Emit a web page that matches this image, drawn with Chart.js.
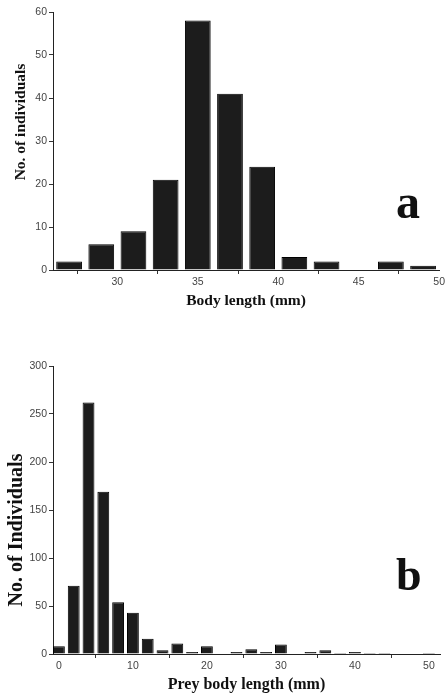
<!DOCTYPE html>
<html>
<head>
<meta charset="utf-8">
<script src="https://cdn.jsdelivr.net/npm/chart.js@4.4.0/dist/chart.umd.min.js"></script>
<style>
  body { margin: 0; background: #fff; }
  #wrap { position: relative; width: 447px; height: 694px; }
  .box { position: absolute; left: 0; width: 447px; }
  .letter { position: absolute; font-family: "Liberation Serif", serif; font-weight: bold; color: #111; }
  .ytitle {
    position: absolute; white-space: nowrap; line-height: 1;
    font-family: "Liberation Serif", serif; font-weight: bold; color: #111;
    transform: translate(-50%, -50%) rotate(-90deg);
  }
</style>
</head>
<body>
<div id="wrap">
  <div class="box" style="top:0; height:310px;"><canvas id="bodyChart"></canvas></div>
  <div class="box" style="top:350px; height:344px;"><canvas id="preyChart"></canvas></div>
  <div class="ytitle" style="left:20px; top:122px; font-size:15.5px;">No. of individuals</div>
  <div class="ytitle" style="left:15px; top:530px; font-size:20px;">No. of Individuals</div>
  <div class="letter" style="left:396px; top:174px; font-size:48px;">a</div>
  <div class="letter" style="left:396px; top:548px; font-size:46px;">b</div>
</div>
<script>
// panel a - body length (mm), bins 2 mm wide
var bodyBins = [27, 29, 31, 33, 35, 37, 39, 41, 43, 45, 47, 49];
var bodyCounts = [2, 6, 9, 21, 58, 41, 24, 3, 2, 0, 2, 1];
var bodyTicksY = [0, 10, 20, 30, 40, 50, 60];

// panel b - prey body length (mm), bins 2 mm wide
var preyBins = [0, 2, 4, 6, 8, 10, 12, 14, 16, 18, 20, 22, 24, 26, 28, 30, 32, 34, 36, 38, 40, 42, 44, 46, 48, 50];
var preyCounts = [8, 71, 262, 169, 54, 43, 16, 4, 11, 2, 8, 0, 2, 5, 2, 10, 0, 2, 4, 1, 2, 1, 1, 0, 0, 1];
var preyTicksY = [0, 50, 100, 150, 200, 250, 300];

function toPoints(bins, counts) {
  var pts = [];
  for (var i = 0; i < bins.length; i++) {
    pts.push({ x: bins[i], y: counts[i] });
  }
  return pts;
}

function makeHist(id, bins, counts, ticksY, xMin, xMax, xStep, xTitle, padTop, xFont) {
  var ctx = document.getElementById(id).getContext('2d');
  return new Chart(ctx, {
    type: 'bar',
    data: {
      datasets: [{
        data: toPoints(bins, counts),
        backgroundColor: '#1c1c1c',
        borderColor: '#000',
        borderWidth: 1,
        categoryPercentage: 1,
        barPercentage: 0.8
      }]
    },
    options: {
      responsive: true,
      maintainAspectRatio: false,
      animation: false,
      layout: { padding: { top: padTop, right: 7, left: 0, bottom: 0 } },
      plugins: { legend: { display: false }, tooltip: { enabled: false } },
      scales: {
        x: {
          type: 'linear',
          min: xMin,
          max: xMax,
          offset: false,
          grid: { display: true, drawOnChartArea: false, drawTicks: true, tickLength: 4, color: '#333' },
          border: { display: true, color: '#222', width: 1 },
          ticks: {
            stepSize: xStep,
            includeBounds: false,
            padding: 2,
            color: '#444',
            font: { family: 'Liberation Sans', size: 10.5 }
          },
          title: {
            display: true,
            text: xTitle,
            color: '#111',
            padding: { top: 2, bottom: 0 },
            font: { family: 'Liberation Serif', size: xFont, weight: 'bold' }
          },
          afterFit: function(scale) { scale.height = 40; }
        },
        y: {
          min: 0,
          max: ticksY[ticksY.length - 1],
          grid: { display: true, drawOnChartArea: false, drawTicks: true, tickLength: 4, color: '#333' },
          border: { display: true, color: '#222', width: 1 },
          afterBuildTicks: function(scale) {
            scale.ticks = ticksY.map(function(v) { return { value: v }; });
          },
          ticks: {
            padding: 2,
            color: '#444',
            font: { family: 'Liberation Sans', size: 10.5 }
          },
          // axis title is the rotated div above (it sits off-centre in the original)
          title: { display: false },
          afterFit: function(scale) { scale.width = 53; }
        }
      }
    }
  });
}

makeHist('bodyChart', bodyBins, bodyCounts, bodyTicksY, 26, 50, 5, 'Body length (mm)', 12, 15.5);
makeHist('preyChart', preyBins, preyCounts, preyTicksY, -0.8, 51.5, 10, 'Prey body length (mm)', 16, 16);
</script>
</body>
</html>
